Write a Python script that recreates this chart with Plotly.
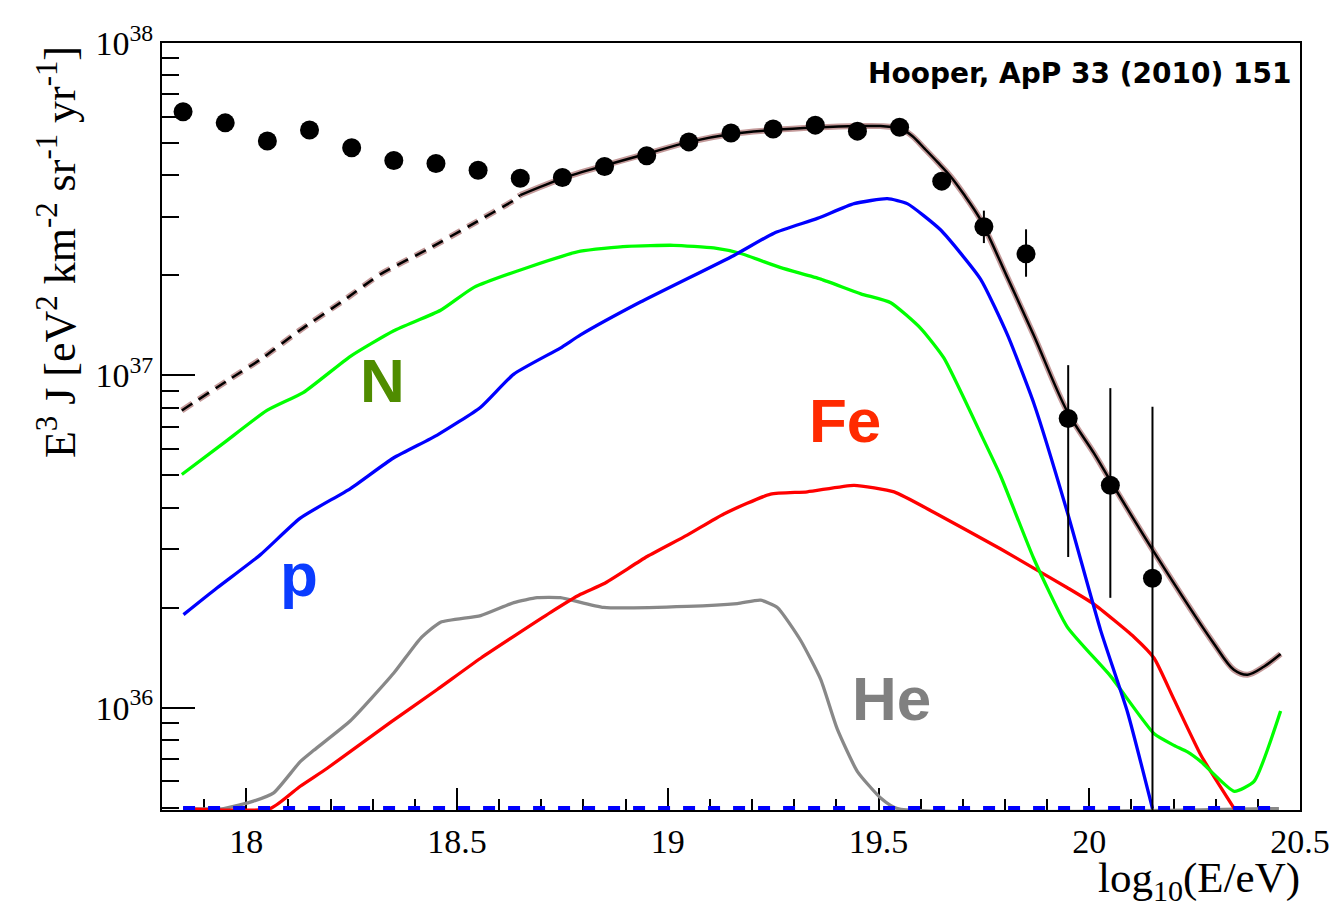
import math
import plotly.graph_objects as go

# ---------------- data (log10(E/eV), E^3 J in eV^2 km^-2 sr^-1 yr^-1) ----------------
data_E = [17.85, 17.95, 18.05, 18.15, 18.25, 18.35, 18.45, 18.55, 18.65, 18.75, 18.85, 18.95,
          19.05, 19.15, 19.25, 19.35, 19.45, 19.55, 19.65, 19.75, 19.85, 19.95, 20.05, 20.15]
data_J = [6.21e37, 5.75e37, 5.07e37, 5.47e37, 4.84e37, 4.43e37, 4.34e37, 4.14e37, 3.92e37, 3.94e37,
          4.25e37, 4.58e37, 5.04e37, 5.36e37, 5.51e37, 5.66e37, 5.43e37, 5.58e37, 3.84e37, 2.80e37,
          2.32e37, 7.41e36, 4.67e36, 2.45e36]
data_hi = [6.21e37, 5.75e37, 5.07e37, 5.47e37, 4.84e37, 4.43e37, 4.34e37, 4.14e37, 3.92e37, 3.94e37,
           4.25e37, 4.58e37, 5.04e37, 5.36e37, 5.51e37, 5.66e37, 5.43e37, 5.58e37, 3.84e37, 3.13e37,
           2.75e37, 1.073e37, 9.15e36, 8.04e36]
data_lo = [6.21e37, 5.75e37, 5.07e37, 5.47e37, 4.84e37, 4.43e37, 4.34e37, 4.14e37, 3.92e37, 3.94e37,
           4.25e37, 4.58e37, 5.04e37, 5.36e37, 5.51e37, 5.66e37, 5.43e37, 5.58e37, 3.84e37, 2.50e37,
           1.98e37, 2.84e36, 2.14e36, 1.0e35]

tot_dash_E = [17.847, 17.954, 18.033, 18.128, 18.231, 18.318, 18.429, 18.540, 18.635, 18.650]
tot_dash_J = [7.84e36, 9.62e36, 1.115e37, 1.369e37, 1.680e37, 2.015e37, 2.390e37, 2.867e37, 3.363e37, 3.486e37]
tot_E = [18.650, 18.750, 18.850, 18.950, 19.052, 19.151, 19.251, 19.351, 19.450, 19.505, 19.552,
         19.580, 19.610, 19.640, 19.670, 19.702, 19.742, 19.804, 19.868, 19.947, 20.011, 20.053,
         20.153, 20.295, 20.343, 20.376, 20.414, 20.454]
tot_J = [3.486e37, 3.915e37, 4.279e37, 4.644e37, 5.041e37, 5.324e37, 5.470e37, 5.565e37, 5.622e37,
         5.622e37, 5.530e37, 5.250e37, 4.800e37, 4.380e37, 3.980e37, 3.511e37, 2.940e37, 1.992e37,
         1.323e37, 7.82e36, 5.83e36, 4.75e36, 2.948e36, 1.563e36, 1.300e36, 1.256e36, 1.327e36, 1.450e36]

N_E = [17.847, 17.946, 18.049, 18.136, 18.247, 18.350, 18.461, 18.540, 18.666, 18.793, 18.904,
       19.014, 19.109, 19.173, 19.268, 19.363, 19.458, 19.529, 19.600, 19.655, 19.742, 19.790,
       19.868, 19.948, 20.051, 20.154, 20.201, 20.233, 20.265, 20.344, 20.391, 20.454]
N_J = [5.03e36, 6.25e36, 7.84e36, 8.89e36, 1.141e37, 1.362e37, 1.569e37, 1.839e37, 2.108e37,
       2.363e37, 2.445e37, 2.462e37, 2.417e37, 2.326e37, 2.108e37, 1.948e37, 1.759e37, 1.654e37,
       1.385e37, 1.128e37, 6.69e36, 4.97e36, 2.816e36, 1.747e36, 1.242e36, 8.34e35, 7.70e35,
       7.36e35, 6.88e35, 5.60e35, 6.00e35, 9.77e35]

p_E = [17.851, 17.931, 18.033, 18.128, 18.247, 18.349, 18.453, 18.556, 18.634, 18.745, 18.793,
       18.935, 19.157, 19.252, 19.355, 19.442, 19.521, 19.568, 19.647, 19.742, 19.806, 19.869,
       19.948, 20.027, 20.091, 20.150]
p_J = [1.905e36, 2.295e36, 2.882e36, 3.718e36, 4.563e36, 5.64e36, 6.61e36, 8.02e36, 1.007e37,
       1.208e37, 1.323e37, 1.661e37, 2.295e37, 2.678e37, 2.966e37, 3.286e37, 3.400e37, 3.286e37,
       2.741e37, 1.948e37, 1.323e37, 8.20e36, 3.873e36, 1.708e36, 9.67e35, 4.97e35]

Fe_E = [17.85, 18.057, 18.128, 18.192, 18.342, 18.453, 18.556, 18.722, 18.793, 18.848, 18.951,
        19.046, 19.133, 19.244, 19.331, 19.442, 19.537, 19.631, 19.790, 19.868, 19.948, 20.011,
        20.106, 20.154, 20.201, 20.265, 20.344]
Fe_J = [4.97e35, 4.97e35, 5.80e35, 6.57e35, 9.03e35, 1.134e36, 1.408e36, 1.935e36, 2.193e36,
        2.359e36, 2.849e36, 3.304e36, 3.828e36, 4.389e36, 4.46e36, 4.667e36, 4.46e36, 3.873e36,
        3.002e36, 2.630e36, 2.295e36, 2.049e36, 1.632e36, 1.408e36, 1.059e36, 7.19e35, 4.97e35]

He_E = [17.85, 17.946, 18.017, 18.065, 18.128, 18.160, 18.247, 18.350, 18.413, 18.461, 18.556,
        18.635, 18.690, 18.745, 18.848, 19.046, 19.165, 19.220, 19.260, 19.315, 19.363, 19.402,
        19.450, 19.505, 19.545, 20.45]
He_J = [4.97e35, 4.97e35, 5.23e35, 5.54e35, 6.88e35, 7.44e35, 9.13e35, 1.271e36, 1.614e36,
        1.807e36, 1.892e36, 2.071e36, 2.143e36, 2.143e36, 2.002e36, 2.016e36, 2.057e36, 2.105e36,
        2.002e36, 1.595e36, 1.214e36, 8.63e35, 6.42e35, 5.35e35, 4.97e35, 4.97e35]

floor_E = [17.85, 20.45]
floor_J = [4.97e35, 4.97e35]

x_tickvals = [18, 18.5, 19, 19.5, 20, 20.5]
x_ticktext = ["18", "18.5", "19", "19.5", "20", "20.5"]
y_tickvals = [1e36, 1e37, 1e38]
y_ticktext = ["10<sup>36</sup>", "10<sup>37</sup>", "10<sup>38</sup>"]
y_minor = [k * 10.0 ** d for d in (35, 36, 37) for k in range(2, 10)]

# ---------------- figure ----------------
fig = go.Figure()
spl = dict(shape="spline", smoothing=0.5)
spl_tot = dict(shape="spline", smoothing=0.9)

fig.add_trace(go.Scatter(x=He_E, y=He_J, mode="lines", line=dict(color="#888888", width=3.3, **spl)))
fig.add_trace(go.Scatter(x=Fe_E, y=Fe_J, mode="lines", line=dict(color="#FF0000", width=3.3, **spl)))
fig.add_trace(go.Scatter(x=N_E, y=N_J, mode="lines", line=dict(color="#00FF00", width=3.3, **spl)))
fig.add_trace(go.Scatter(x=p_E, y=p_J, mode="lines", line=dict(color="#0000FF", width=3.3, **spl)))
# total: halo + black line
fig.add_trace(go.Scatter(x=tot_dash_E, y=tot_dash_J, mode="lines",
                         line=dict(color="#C49A9A", width=6, dash="12px,8px", **spl)))
fig.add_trace(go.Scatter(x=tot_dash_E, y=tot_dash_J, mode="lines",
                         line=dict(color="#000000", width=2.5, dash="12px,8px", **spl)))
fig.add_trace(go.Scatter(x=tot_E, y=tot_J, mode="lines", line=dict(color="#C49A9A", width=6, **spl_tot)))
fig.add_trace(go.Scatter(x=tot_E, y=tot_J, mode="lines", line=dict(color="#000000", width=2.5, **spl_tot)))
# floor (zero) components
fig.add_trace(go.Scatter(x=floor_E, y=floor_J, mode="lines",
                         line=dict(color="#0000FF", width=5, dash="12px,13px")))
# data points
err_plus = [h - v for h, v in zip(data_hi, data_J)]
err_minus = [v - l for v, l in zip(data_J, data_lo)]
fig.add_trace(go.Scatter(x=data_E, y=data_J, mode="markers",
                         marker=dict(color="black", size=19),
                         error_y=dict(type="data", array=err_plus, arrayminus=err_minus,
                                      color="black", thickness=2, width=0)))

tickfont = dict(family="Liberation Serif", size=34, color="black")
fig.update_xaxes(range=[17.8, 20.5], tickmode="array", tickvals=x_tickvals, ticktext=x_ticktext,
                 ticks="inside", ticklen=22, tickwidth=2, tickcolor="black",
                 minor=dict(dtick=0.1, tick0=18, ticks="inside", ticklen=11, tickwidth=2, tickcolor="black"),
                 showline=True, linecolor="black", linewidth=2, mirror=True,
                 showgrid=False, zeroline=False, tickfont=tickfont, layer="below traces")
fig.update_yaxes(type="log", range=[math.log10(4.92e35), 38], tickmode="array",
                 tickvals=y_tickvals, ticktext=y_ticktext,
                 ticks="inside", ticklen=33, tickwidth=2, tickcolor="black",
                 minor=dict(tickmode="array", tickvals=y_minor, ticks="inside", ticklen=17,
                            tickwidth=2, tickcolor="black"),
                 showline=True, linecolor="black", linewidth=2, mirror=True,
                 showgrid=False, zeroline=False, tickfont=tickfont, layer="below traces")

ann = []
ann.append(dict(text="E<sup>3</sup> J [eV<sup>2</sup> km<sup>-2</sup> sr<sup>-1</sup> yr<sup>-1</sup>]",
                xref="paper", yref="paper", x=-0.092, y=0.999, xanchor="center", yanchor="top",
                textangle=-90, showarrow=False,
                font=dict(family="Liberation Serif", size=44, color="black")))
ann.append(dict(text="log<sub>10</sub>(E/eV)", xref="paper", yref="paper", x=1.002, y=-0.055,
                xanchor="right", yanchor="top", showarrow=False,
                font=dict(family="Liberation Serif", size=43, color="black")))
ann.append(dict(text="<b>Hooper, ApP 33 (2010) 151</b>", xref="paper", yref="paper", x=0.994, y=0.960,
                xanchor="right", yanchor="middle", showarrow=False,
                font=dict(family="DejaVu Sans", size=28, color="black")))
labels = [("N", 0.1942, 0.5606, "#4F8C00"), ("Fe", 0.6002, 0.5077, "#FF2A00"),
          ("p", 0.1204, 0.3074, "#0A3CFF"), ("He", 0.6406, 0.1456, "#808080")]
for t, x, y, c in labels:
    ann.append(dict(text="<b>%s</b>" % t, xref="paper", yref="paper", x=x, y=y,
                    xanchor="center", yanchor="middle", showarrow=False,
                    font=dict(family="Liberation Sans", size=62, color=c)))

# page body has an 8px margin: plot area placed at x 162..1300, y 34..810 on screen
fig.update_layout(width=1338, height=907, margin=dict(l=154, r=46, t=26, b=105),
                  paper_bgcolor="white", plot_bgcolor="white", showlegend=False,
                  annotations=ann)

fig.write_html("out.html")
